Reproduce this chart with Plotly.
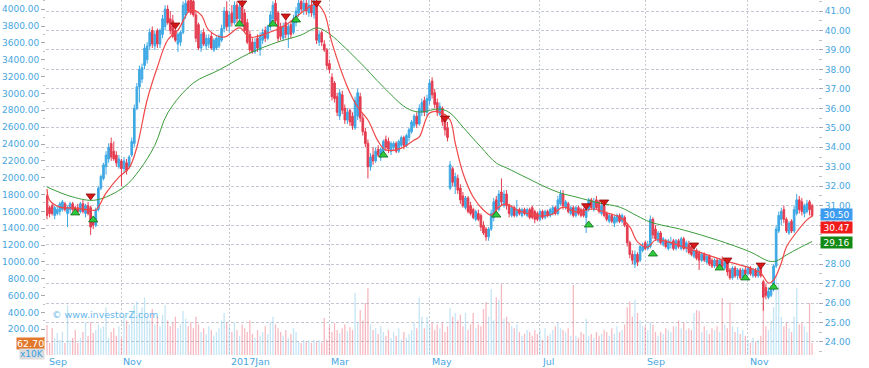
import plotly.graph_objects as go

# ---------------- data ----------------
month_idx = [0, 29, 71, 110, 149, 192, 233, 273]
month_labels = ["Sep", "Nov", "2017Jan", "Mar", "May", "Jul", "Sep", "Nov"]

opens = [
 31.5,30.9,31.0,30.5,30.6,30.7,30.8,31.1,30.6,30.8,
 31.1,30.9,30.9,30.7,31.1,30.6,31.0,30.9,30.2,30.0,
 30.8,31.9,32.4,33.0,33.4,34.2,33.8,33.6,33.0,33.3,
 32.9,33.2,33.0,33.6,34.2,36.0,37.1,37.5,38.2,38.5,
 39.2,40.0,39.2,40.0,39.3,39.8,40.2,41.1,40.6,40.5,
 40.0,39.3,39.4,39.9,40.8,41.5,41.6,41.5,40.8,40.3,
 39.1,39.9,39.2,39.3,39.7,39.0,39.1,39.2,39.5,40.1,
 41.0,40.2,40.9,40.4,41.3,40.6,41.3,40.9,40.4,39.8,
 39.4,38.9,39.6,39.0,39.5,40.0,39.6,40.2,40.6,41.4,
 40.9,40.2,39.6,40.4,39.8,40.3,39.9,40.4,40.9,41.5,
 41.0,41.4,40.9,41.3,40.8,41.5,39.4,39.9,39.3,39.0,
 38.3,37.6,37.3,36.6,35.6,36.7,36.0,35.4,35.9,35.6,
 35.0,35.6,36.6,35.5,34.8,34.2,33.0,33.6,33.3,33.9,
 33.5,33.8,34.4,34.3,33.8,34.0,34.2,33.8,34.1,34.5,
 34.1,34.5,34.8,35.1,35.6,35.2,35.8,36.4,35.8,36.4,
 37.4,36.8,36.3,35.7,36.0,35.5,35.0,31.9,32.9,32.0,
 32.4,31.9,31.5,30.9,31.4,31.0,30.8,30.3,30.6,30.5,
 30.0,29.8,29.4,29.8,30.4,31.3,30.8,31.7,31.0,31.6,
 31.0,30.5,30.9,30.5,30.8,30.5,30.8,30.5,30.8,30.9,
 30.7,30.6,30.3,30.7,30.4,30.7,30.5,30.6,30.9,30.6,
 31.1,31.6,30.9,31.1,30.6,30.9,30.5,30.9,30.8,30.8,
 30.4,30.8,31.3,30.8,31.3,31.2,30.6,31.0,30.6,30.2,
 30.5,30.1,30.2,30.5,30.2,30.4,30.0,29.1,28.5,28.0,
 28.5,28.2,28.7,29.1,28.8,28.9,30.3,29.8,29.2,29.6,
 29.0,29.2,28.8,29.0,29.2,28.8,29.2,28.8,29.3,28.8,
 29.0,28.9,28.4,28.7,28.6,28.2,28.5,28.1,28.4,28.2,
 27.9,28.2,27.9,28.2,27.8,28.1,27.7,27.3,27.8,27.4,
 27.7,27.3,27.7,27.5,27.8,27.4,27.7,27.4,27.8,27.1,
 26.8,26.3,26.4,26.7,27.9,29.7,30.3,30.8,30.3,29.6,
 30.2,29.7,30.6,31.3,31.2,30.6,30.7,31.2,31.0]

highs = [
 31.6,31.0,31.1,31.0,31.0,31.2,31.3,31.2,31.0,31.2,
 31.2,31.0,31.1,31.2,31.3,31.1,31.2,31.0,30.4,30.9,
 32.0,32.6,33.2,33.8,34.2,34.5,34.3,33.8,33.6,33.4,
 33.5,33.4,33.6,34.5,36.2,37.3,38.2,38.3,39.3,39.4,
 40.1,40.2,40.0,40.1,40.1,40.8,41.3,41.3,41.0,40.8,
 40.2,39.9,40.0,41.5,41.6,41.7,41.8,41.7,41.0,40.4,
 40.0,40.1,39.8,39.8,39.9,39.6,39.7,39.8,40.3,41.2,
 41.5,41.0,41.3,41.5,41.5,41.4,41.6,41.1,40.6,40.0,
 39.6,39.6,39.8,39.9,40.1,40.2,40.3,41.0,41.5,41.6,
 41.0,40.4,40.4,40.6,40.4,40.5,40.8,41.2,41.6,41.7,
 41.6,41.7,41.6,41.6,41.7,41.8,40.0,40.0,39.5,39.1,
 38.5,37.8,37.4,36.8,37.0,36.9,36.2,36.0,36.0,35.8,
 36.6,37.0,36.8,35.7,35.0,34.4,33.7,34.0,34.0,34.1,
 34.0,34.4,34.6,34.5,34.3,34.3,34.3,34.4,34.6,34.6,
 34.7,35.0,35.4,35.7,35.8,36.2,36.5,36.6,36.7,37.5,
 37.6,37.0,36.5,36.3,36.1,35.7,35.3,33.3,33.0,32.7,
 32.6,32.1,31.7,31.5,31.5,31.2,30.9,30.8,30.8,30.6,
 30.2,29.9,29.9,30.8,31.4,31.5,31.8,32.4,31.8,31.8,
 31.1,31.0,31.0,31.3,30.9,30.9,30.9,30.9,30.9,31.0,
 30.8,30.7,30.8,30.8,30.8,30.8,30.9,31.0,31.0,31.5,
 31.8,31.8,31.3,31.2,31.0,31.0,31.0,31.0,30.9,30.9,
 31.0,31.4,31.4,31.4,31.5,31.3,31.1,31.2,30.7,30.6,
 30.6,30.5,30.6,30.6,30.6,30.5,30.1,29.2,28.7,28.7,
 28.6,29.0,29.1,29.2,29.2,30.5,30.4,30.0,29.7,29.7,
 29.4,29.3,29.3,29.4,29.3,29.3,29.3,29.4,29.4,29.2,
 29.2,29.0,28.8,28.8,28.7,28.6,28.6,28.5,28.5,28.3,
 28.3,28.3,28.3,28.4,28.2,28.2,27.8,27.9,27.9,27.8,
 27.8,27.8,27.9,27.9,27.9,27.8,27.8,27.9,27.9,27.2,
 27.0,26.8,26.9,28.0,30.0,30.7,30.9,31.0,30.4,30.2,
 30.3,31.0,31.6,31.5,31.4,31.1,31.3,31.3,31.1]

lows = [
 30.3,30.4,30.5,30.3,30.5,30.5,30.7,30.7,29.9,30.6,
 30.7,30.6,30.6,30.6,30.6,30.4,30.5,29.5,29.8,29.9,
 30.7,31.8,32.3,32.6,33.2,33.3,33.3,33.0,32.9,32.0,
 32.7,32.6,32.9,33.5,34.0,35.9,36.3,37.3,38.0,38.3,
 39.0,39.1,39.0,39.1,39.1,39.6,40.0,40.3,39.8,39.6,
 39.4,38.9,39.2,39.8,40.6,40.9,40.8,40.7,39.4,39.0,
 38.9,39.2,39.0,39.1,39.0,38.9,39.0,39.1,39.4,39.9,
 40.0,39.9,40.2,40.3,40.4,40.4,40.2,39.9,39.3,38.8,
 38.8,38.8,38.9,38.7,39.3,39.4,39.5,40.0,40.4,40.3,
 39.4,39.5,39.5,39.6,39.1,39.6,39.8,40.2,40.7,40.9,
 40.8,40.8,40.7,40.7,40.6,39.3,39.2,39.2,38.9,38.0,
 37.8,36.4,36.3,35.6,35.4,35.7,35.2,35.2,35.1,34.9,
 34.9,35.4,35.3,34.6,34.0,32.4,32.8,33.1,33.2,33.5,
 33.3,33.7,33.8,33.7,33.6,33.8,33.7,33.7,34.0,33.9,
 34.0,34.3,34.7,35.0,35.0,35.1,35.6,35.6,35.6,36.2,
 36.5,36.0,35.6,35.6,35.1,34.6,34.3,31.8,32.0,31.6,
 31.6,31.1,30.9,30.8,30.6,30.5,30.3,30.2,30.2,29.7,
 29.5,29.2,29.2,29.7,30.2,30.6,30.7,31.0,30.9,30.8,
 30.4,30.4,30.4,30.4,30.5,30.4,30.5,30.4,30.3,30.3,
 30.1,30.2,30.2,30.3,30.3,30.4,30.4,30.5,30.5,30.5,
 31.0,30.8,30.8,30.6,30.5,30.4,30.4,30.5,30.4,30.4,
 29.6,30.7,30.8,30.7,30.8,30.6,30.5,30.4,30.2,30.1,
 30.1,29.9,30.1,30.1,30.1,29.9,28.9,28.3,28.0,27.8,
 27.9,28.1,28.6,28.7,28.7,28.8,29.3,29.2,29.1,29.0,
 28.9,28.8,28.7,28.8,28.7,28.7,28.8,28.7,28.7,28.6,
 28.5,28.4,28.3,28.2,27.7,28.1,28.1,28.0,27.9,27.8,
 27.8,27.8,27.8,27.8,27.7,27.4,27.2,27.2,27.3,27.2,
 27.2,27.2,27.4,27.4,27.4,27.3,27.3,27.3,27.3,25.6,
 26.2,26.2,26.3,26.6,27.8,29.6,30.0,30.1,29.6,29.5,
 29.6,29.6,30.5,30.6,30.5,30.4,30.6,30.5,30.4]

closes = [
 30.5,30.6,30.6,30.9,30.8,31.1,31.2,30.8,30.9,31.1,
 30.8,30.7,30.7,31.1,30.7,31.0,30.6,29.9,30.0,30.8,
 31.9,32.5,33.1,33.6,34.0,33.5,33.4,33.2,33.4,32.9,
 33.3,32.8,33.5,34.3,36.0,37.1,38.0,38.1,39.1,39.2,
 39.9,39.3,39.8,39.3,40.0,40.6,41.1,40.4,40.0,39.7,
 39.5,39.8,39.9,41.3,41.4,41.0,40.9,40.8,39.6,39.1,
 39.8,39.3,39.6,39.6,39.1,39.5,39.6,39.7,40.1,41.0,
 40.2,40.8,40.4,41.3,40.6,41.2,40.4,40.0,39.4,39.0,
 38.9,39.4,39.1,39.7,39.9,39.6,40.2,40.8,41.3,40.5,
 39.6,39.7,40.2,39.8,40.2,39.8,40.6,41.0,41.4,41.1,
 41.4,41.0,41.3,40.9,41.5,39.5,39.8,39.4,39.0,38.2,
 38.0,36.6,36.5,35.8,36.8,35.9,35.4,35.8,35.3,35.1,
 36.4,36.8,35.5,34.8,34.2,33.0,33.5,33.3,33.8,33.6,
 33.9,34.3,34.0,33.9,34.2,34.2,33.8,34.3,34.5,34.1,
 34.6,34.9,35.3,35.6,35.2,36.0,36.3,35.8,36.5,37.3,
 36.7,36.2,35.8,36.1,35.3,34.9,34.5,33.1,32.2,32.5,
 31.8,31.3,31.0,31.4,30.7,30.6,30.4,30.7,30.3,29.9,
 29.6,29.4,29.8,30.6,31.2,30.8,31.6,31.2,31.6,31.0,
 30.6,30.9,30.5,30.8,30.6,30.8,30.6,30.8,30.4,30.4,
 30.3,30.3,30.7,30.4,30.7,30.5,30.8,30.9,30.6,31.3,
 31.6,31.0,31.2,30.7,30.9,30.5,30.9,30.6,30.5,30.5,
 30.9,31.3,30.9,31.2,30.9,30.7,31.0,30.5,30.3,30.5,
 30.2,30.4,30.5,30.2,30.5,30.0,29.1,28.5,28.2,28.5,
 28.1,28.9,28.9,28.8,29.0,30.3,29.5,29.3,29.6,29.1,
 29.3,28.9,29.2,29.1,28.8,29.2,28.9,29.3,28.8,29.1,
 28.6,28.5,28.7,28.3,28.2,28.5,28.2,28.4,28.0,27.9,
 28.2,27.9,28.2,27.9,28.1,27.6,27.3,27.8,27.4,27.7,
 27.3,27.7,27.5,27.8,27.5,27.7,27.4,27.8,27.4,26.3,
 26.4,26.6,26.7,27.9,29.8,30.5,30.7,30.3,29.7,30.1,
 29.7,30.8,31.3,30.8,30.7,31.0,31.1,30.8,30.5]

volumes = [
 157,63,141,89,115,78,120,63,260,78,
 89,131,63,89,120,170,100,172,115,131,
 160,140,150,250,90,120,140,100,150,90,
 200,180,160,230,260,280,220,250,300,200,
 180,240,160,200,150,210,260,180,150,170,
 200,140,160,230,190,150,170,140,200,160,
 120,140,110,150,130,100,120,140,180,220,
 170,150,120,170,130,100,160,140,120,180,
 110,90,130,100,120,150,110,170,200,160,
 140,120,100,130,90,110,140,120,70,63,
 78,70,75,63,80,70,78,65,193,80,
 150,120,167,130,115,140,160,125,145,130,
 325,170,235,180,272,350,160,130,140,110,
 150,120,100,130,90,120,100,140,80,120,
 90,110,130,170,140,300,200,140,200,150,
 170,130,160,140,170,120,150,245,200,220,
 180,210,150,220,130,160,220,140,160,150,
 240,277,200,345,180,300,290,371,190,200,
 170,150,140,160,120,100,110,130,120,100,
 130,110,130,80,140,100,110,130,150,170,
 140,130,120,140,100,366,100,90,120,110,
 190,100,110,90,120,100,110,130,120,100,
 140,110,150,120,130,160,250,280,200,290,
 220,180,150,150,130,172,160,120,100,120,
 110,140,130,120,150,150,180,140,170,130,
 140,130,220,235,230,120,150,130,110,140,
 130,150,120,298,160,140,276,150,120,146,
 110,130,100,80,63,90,70,80,100,272,
 150,130,180,250,418,376,200,150,170,140,
 120,200,350,160,167,150,120,272,62.7]

# fast moving average (red), sampled
ma_fast_idx = [0,1,5,10,17,19,23,28,32,35,39,43,47,51,56,60,63,69,75,79,86,93,99,105,108,111,117,121,125,129,132,138,143,145,149,153,157,159,162,166,170,173,176,179,183,188,193,197,201,206,213,218,223,227,230,234,237,242,248,254,261,267,274,278,281,283,286,288,292,296,298]
ma_fast_val = [31.86,31.29,30.93,30.88,30.78,30.78,31.65,32.47,32.94,34.0,36.43,38.12,39.51,40.02,41.05,40.8,40.02,39.66,40.13,39.66,39.87,40.28,40.9,41.36,40.9,39.36,37.1,36.07,35.4,34.3,33.86,33.96,34.37,34.53,35.76,35.81,35.4,34.22,32.68,31.45,30.78,30.52,30.93,31.09,30.78,30.57,30.47,30.57,30.93,30.68,30.83,30.63,30.42,29.91,29.14,28.88,29.24,29.14,28.88,28.62,28.31,28.06,27.8,27.54,27.03,27.18,28.06,28.88,29.65,30.27,30.47]

# slow moving average (green), sampled
ma_slow_idx = [0,10,19,30,36,42,47,57,67,79,90,99,105,109,121,131,140,145,153,157,162,169,175,179,187,195,200,206,215,223,230,235,248,261,274,281,284,288,293,298]
ma_slow_val = [31.96,31.45,31.29,31.96,32.83,34.1,35.76,37.3,37.97,38.84,39.41,39.77,40.13,39.92,38.48,37.1,36.02,35.81,35.97,35.76,35.04,34.01,33.19,32.94,32.42,31.91,31.65,31.45,31.14,30.93,30.47,30.16,29.75,29.24,28.62,28.16,28.16,28.47,28.83,29.16]

sell_idx = [17,50,76,93,105,155,210,217,252,265,278]
sell_val = [31.5,40.28,41.41,40.74,41.41,35.5,31.0,31.19,28.98,28.21,27.95]
buy_idx = [11,18,75,88,97,131,175,211,236,262,272,283]
buy_val = [30.63,30.27,40.33,40.33,40.54,33.6,30.52,30.01,28.52,27.8,27.29,26.82]

price_ticks = list(range(24, 42))
vol_ticks = list(range(200, 4001, 200))
last_close, last_fast, last_slow, last_vol = 30.50, 30.47, 29.16, 62.70

# ---------------- figure ----------------
idx = list(range(len(closes)))
FONT = "DejaVu Sans"
BLUE_TXT = "#48a6e0"
UP, DOWN = "#3ea8e4", "#e43c50"

vol_colors = ["rgba(125,198,236,0.45)" if c >= o else "rgba(236,100,118,0.45)"
              for o, c in zip(opens, closes)]

fig = go.Figure()
fig.add_trace(go.Bar(x=idx, y=volumes, marker_color=vol_colors, marker_line_width=0,
                     width=0.5, yaxis="y", showlegend=False, hoverinfo="skip"))
fig.add_trace(go.Candlestick(x=idx, open=opens, high=highs, low=lows, close=closes,
                             yaxis="y2", showlegend=False,
                             increasing=dict(line=dict(color=UP, width=1), fillcolor=UP),
                             decreasing=dict(line=dict(color=DOWN, width=1), fillcolor=DOWN),
                             whiskerwidth=0))
fig.add_trace(go.Scatter(x=ma_slow_idx, y=ma_slow_val, mode="lines", yaxis="y2",
                         line=dict(color="#3c9c3c", width=1, shape="spline"), showlegend=False))
fig.add_trace(go.Scatter(x=ma_fast_idx, y=ma_fast_val, mode="lines", yaxis="y2",
                         line=dict(color="#f04848", width=1.2, shape="spline"), showlegend=False))
fig.add_trace(go.Scatter(x=sell_idx, y=sell_val, mode="markers", yaxis="y2", showlegend=False,
                         marker=dict(symbol="triangle-down", size=8, color="#d81818",
                                     line=dict(color="#8a0a0a", width=0.8))))
fig.add_trace(go.Scatter(x=buy_idx, y=buy_val, mode="markers", yaxis="y2", showlegend=False,
                         marker=dict(symbol="triangle-up", size=8, color="#2ccc3c",
                                     line=dict(color="#126a1a", width=0.8))))
fig.add_trace(go.Scatter(x=[0], y=[2000], mode="markers", yaxis="y3", showlegend=False,
                         marker=dict(opacity=0), hoverinfo="skip"))

plot_h = 355.0
fig.update_layout(
    width=869, height=368,
    margin=dict(l=46, r=51, t=0, b=13, autoexpand=False),
    paper_bgcolor="white", plot_bgcolor="white",
    font=dict(family=FONT, size=9, color=BLUE_TXT),
    showlegend=False, hovermode=False, boxgap=0.08,
    xaxis=dict(range=[-0.39, 300.3], tickmode="array", tickvals=month_idx,
               showticklabels=False, ticks="", showgrid=True,
               gridcolor="#c6cad4", griddash="2px,2px", gridwidth=1, zeroline=False,
               showline=False, rangeslider=dict(visible=False)),
    yaxis=dict(range=[0, 1855], visible=False, fixedrange=True),
    yaxis2=dict(overlaying="y", side="right", range=[23.332, 41.565],
                tickmode="array", tickvals=price_ticks,
                ticktext=[f"{v:.2f}" for v in price_ticks],
                ticks="outside", ticklen=4, tickcolor="#a8a8b0", tickwidth=1,
                showgrid=True, gridcolor="#c4c8d4", griddash="3px,2px", gridwidth=1,
                zeroline=False, showline=False,
                minor=dict(tickvals=[v + 0.5 for v in price_ticks[:-1]] + [23.5, 41.5],
                           ticks="outside", ticklen=3, tickcolor="#c0c0c8", showgrid=False),
                tickfont=dict(family=FONT, size=9, color=BLUE_TXT)),
    yaxis3=dict(overlaying="y", side="left", range=[-105.7, 4110.4],
                tickmode="array", tickvals=vol_ticks,
                ticktext=[f"{v:.2f}" for v in vol_ticks],
                ticks="outside", ticklen=4, tickcolor="#a8a8b0",
                showgrid=False, zeroline=False, showline=False,
                minor=dict(tickvals=[v - 100 for v in vol_ticks] + [4100],
                           ticks="outside", ticklen=2, tickcolor="#c0c0c8", showgrid=False),
                tickfont=dict(family=FONT, size=9, color=BLUE_TXT)),
)

ann = []
for mi, ml in zip(month_idx, month_labels):
    ann.append(dict(text=ml, xref="x", yref="paper", x=mi, y=-6.5 / plot_h,
                    xanchor="left", yanchor="middle", xshift=0, showarrow=False,
                    font=dict(family=FONT, size=9.5, color=BLUE_TXT)))
ann.append(dict(text="© www.investorZ.com", xref="paper", yref="paper",
                x=(50 - 46) / 772, y=1 - 314 / plot_h, xanchor="left", yanchor="middle",
                showarrow=False, font=dict(family=FONT, size=9.5, color="#6ab8ea")))
ann.append(dict(text=f"{last_vol:.2f}", xref="paper", yref="y", x=-0.001, y=last_vol,
                xanchor="right", yanchor="middle", showarrow=False, bgcolor="#e2782c",
                borderpad=0, font=dict(family=FONT, size=9.5, color="white")))
ann.append(dict(text="x10K", xref="paper", yref="paper", x=-0.001, y=1 - 354 / plot_h,
                xanchor="right", yanchor="middle", showarrow=False, bgcolor="#dcdcdc",
                borderpad=0, font=dict(family=FONT, size=9, color="#3a9ee0")))
for val, col, shift in [(last_close, "#3d9cf0", 1), (last_fast, "#f01c1c", -11),
                        (last_slow, "#138a13", -1)]:
    ann.append(dict(text=f"{val:.2f}", xref="paper", yref="y2", x=1.0 + 2 / 772, y=val,
                    yshift=shift, xanchor="left", yanchor="middle", showarrow=False,
                    bgcolor=col, borderpad=0, width=31, height=11, align="center",
                    font=dict(family=FONT, size=9, color="white")))
fig.update_layout(annotations=ann)

fig.write_html("out.html", config={"displayModeBar": False},
               post_script="document.body.style.margin='0px';")
